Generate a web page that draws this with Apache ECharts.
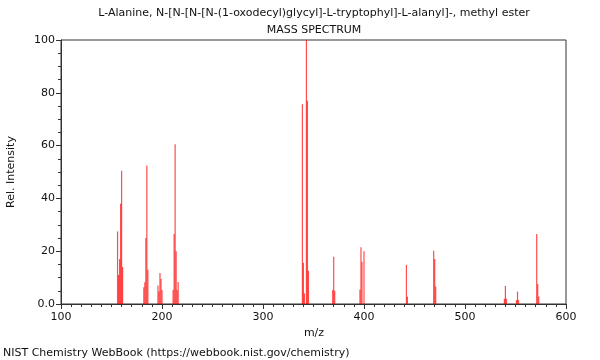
<!DOCTYPE html>
<html>
<head>
<meta charset="utf-8">
<script src="https://cdn.jsdelivr.net/npm/echarts@6/dist/echarts.min.js"></script>
<style>html,body{margin:0;padding:0;background:#fff;}#c{width:600px;height:360px;}</style>
</head>
<body>
<div id="c"></div>
<script>
const chartTitle = 'L-Alanine, N-[N-[N-[N-(1-oxodecyl)glycyl]-L-tryptophyl]-L-alanyl]-, methyl ester';
const subTitle = 'MASS SPECTRUM';
const xName = 'm/z';
const yName = 'Rel. Intensity';
const footer = 'NIST Chemistry WebBook (https://webbook.nist.gov/chemistry)';
const xTicks = [100, 200, 300, 400, 500, 600];
const yTicks = [0, 20, 40, 60, 80, 100];
const peakMz = [156,157,158,159,160,161, 182,183,184,185,186, 196,197,198,199,200,
  211,212,213,214,215,216, 339,340,341,343,344,345, 369,370,371, 396,397,398,400,
  442,443, 469,470,471, 539,540,541, 551,552,553, 571,572,573];
const peakInt = [27.5,11,17,38,50.5,14, 6.3,8.2,25,52.5,13, 7,4.7,11.7,9.6,5.3,
  5.3,26.5,60.5,20,5.3,8.3, 75.7,15.6,4,100,77,12.6, 5.3,17.9,5, 5.5,21.5,16,20,
  14.8,2.8, 20.2,17,6.6, 2,6.8,2, 1.5,4.7,1.5, 26.5,7.6,2.8];

const font = 'DejaVu Sans';
const chart = echarts.init(document.getElementById('c'), null, {renderer: 'canvas'});
const data = peakMz.map((m, i) => [m, peakInt[i]]);
chart.setOption({
  animation: false,
  backgroundColor: '#fff',
  grid: {left: 61, right: 34, top: 40, bottom: 56, show: true, borderColor: '#333', borderWidth: 1, backgroundColor: 'transparent'},
  xAxis: {
    type: 'value', min: xTicks[0], max: xTicks[xTicks.length - 1], interval: 100,
    axisLine: {show: true, lineStyle: {color: '#333', width: 1}},
    axisTick: {show: true, length: 5, lineStyle: {color: '#333'}},
    minorTick: {show: true, splitNumber: 10, length: 3, lineStyle: {color: '#333'}},
    splitLine: {show: false},
    axisLabel: {color: '#111', fontFamily: font, fontSize: 11, margin: 8}
  },
  yAxis: {
    type: 'value', min: yTicks[0], max: yTicks[yTicks.length - 1], interval: 20,
    axisLine: {show: true, lineStyle: {color: '#333', width: 1}},
    axisTick: {show: true, length: 5, lineStyle: {color: '#333'}},
    minorTick: {show: true, splitNumber: 4, length: 3, lineStyle: {color: '#333'}},
    splitLine: {show: false},
    axisLabel: {color: '#111', fontFamily: font, fontSize: 11, margin: 6,
      formatter: v => v === 0 ? '0.0' : String(v)}
  },
  series: [{
    type: 'bar', data: data, barWidth: 1.2,
    itemStyle: {color: 'rgba(255,0,0,0.7)'},
    silent: true
  }],
  graphic: [
    {type: 'text', x: 314, y: 13, style: {text: chartTitle, font: '11px "DejaVu Sans"', fill: '#111', align: 'center', verticalAlign: 'middle'}},
    {type: 'text', x: 314, y: 30, style: {text: subTitle, font: '11px "DejaVu Sans"', fill: '#111', align: 'center', verticalAlign: 'middle'}},
    {type: 'text', x: 11, y: 172, rotation: Math.PI / 2, style: {text: yName, font: '11px "DejaVu Sans"', fill: '#111', align: 'center', verticalAlign: 'middle'}},
    {type: 'text', x: 314, y: 333, style: {text: xName, font: '11px "DejaVu Sans"', fill: '#111', align: 'center', verticalAlign: 'middle'}},
    {type: 'text', x: 3, y: 353, style: {text: footer, font: '11px "DejaVu Sans"', fill: '#111', align: 'left', verticalAlign: 'middle'}}
  ]
});
</script>
</body>
</html>
